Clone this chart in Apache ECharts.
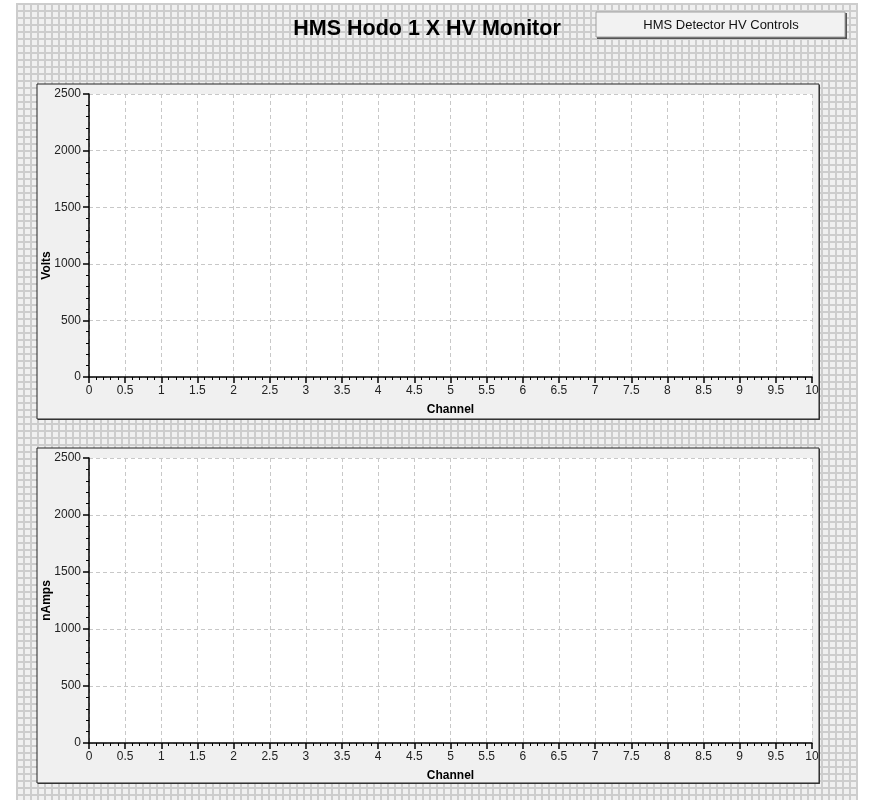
<!DOCTYPE html>
<html>
<head>
<meta charset="utf-8">
<title>HMS Hodo 1 X HV Monitor</title>
<script src="https://cdn.jsdelivr.net/npm/echarts@6/dist/echarts.min.js"></script>
<style>
    html, body { margin: 0; padding: 0; background: #ffffff; }
    #bg {
        position: absolute; left: 16px; top: 3px; width: 842px; height: 797px;
        background-color: #f0f0f0;
        background-image:
            linear-gradient(to right, #cdcdcd 0, #cdcdcd 2px, transparent 2px),
            linear-gradient(to bottom, #cdcdcd 0, #cdcdcd 2px, transparent 2px);
        background-size: 7px 7px;
    }
    #main { position: absolute; left: 0; top: 0; width: 872px; height: 802px; }
</style>
</head>
<body>
<div id="bg"></div>
<div id="main"></div>
<script>
    // 坐标轴范围与刻度
    const channelRange = [0, 10];
    const channelStep = 0.5;
    const voltsRange = [0, 2500];
    const ampsRange = [0, 2500];
    const valueStep = 500;

    // 通道数据(当前无读数)
    const voltsData = [];
    const ampsData = [];

    const FONT = '"Liberation Sans", Arial, sans-serif';

    function xAxisFor(gridIndex) {
        return {
            type: 'value',
            gridIndex: gridIndex,
            min: channelRange[0],
            max: channelRange[1],
            interval: channelStep,
            name: 'Channel',
            nameLocation: 'middle',
            nameGap: 27,
            nameTextStyle: { color: '#000', fontWeight: 'bold', fontSize: 12, fontFamily: FONT },
            axisLine: { onZero: false, lineStyle: { color: '#000', width: 1.5 } },
            axisTick: { length: 6, lineStyle: { color: '#000', width: 1.5 } },
            minorTick: { show: true, splitNumber: 5, length: 3, lineStyle: { color: '#000', width: 1 } },
            axisLabel: { color: '#222', fontSize: 12, fontFamily: FONT, margin: 8, formatter: v => String(v) },
            splitLine: { show: true, lineStyle: { color: '#c8c8c8', type: [4, 3] } }
        };
    }

    function yAxisFor(gridIndex, range, name, pad) {
        return {
            type: 'value',
            gridIndex: gridIndex,
            min: range[0],
            max: range[1],
            interval: valueStep,
            name: name,
            nameLocation: 'middle',
            nameGap: 36,
            nameMoveOverlap: false,
            nameTextStyle: { color: '#000', fontWeight: 'bold', fontSize: 12, fontFamily: FONT, padding: pad },
            axisLine: { show: true, onZero: false, lineStyle: { color: '#000', width: 1.5 } },
            axisTick: { show: true, length: 6, lineStyle: { color: '#000', width: 1.5 } },
            minorTick: { show: true, splitNumber: 5, length: 3, lineStyle: { color: '#000', width: 1 } },
            axisLabel: { color: '#222', fontSize: 12, fontFamily: FONT, margin: 8, formatter: v => String(v) },
            splitLine: { show: true, lineStyle: { color: '#c8c8c8', type: [4, 3] } }
        };
    }

    // 面板:阴影、底板、白色绘图区
    function panel(y) {
        return [
            { type: 'rect', shape: { x: 38, y: y + 1, width: 782, height: 335 }, style: { fill: '#444' }, z: -10 },
            { type: 'rect', shape: { x: 37, y: y, width: 782, height: 335 }, style: { fill: '#f0f0f0', stroke: '#222', lineWidth: 1 }, z: -10 },
            { type: 'rect', shape: { x: 89, y: y + 10, width: 723, height: y === 84 ? 283 : 285 }, style: { fill: '#ffffff' }, z: -10 }
        ];
    }

    const chart = echarts.init(document.getElementById('main'));
    chart.setOption({
        backgroundColor: 'transparent',
        animation: false,
        graphic: [
            ...panel(84),
            ...panel(448),
            {
                type: 'text', x: 427, y: 29, z: 5,
                style: {
                    text: 'HMS Hodo 1 X HV Monitor', fill: '#000', font: 'bold 21.5px ' + FONT,
                    textAlign: 'center', textVerticalAlign: 'middle'
                }
            },
            { type: 'rect', shape: { x: 597, y: 13, width: 250, height: 26 }, style: { fill: '#555' }, z: 4 },
            { type: 'rect', shape: { x: 596, y: 12, width: 249, height: 25 }, style: { fill: '#f2f2f2', stroke: '#a0a0a0', lineWidth: 1 }, z: 5 },
            {
                type: 'text', x: 721, y: 25, z: 6,
                style: {
                    text: 'HMS Detector HV Controls', fill: '#111', font: '13px ' + FONT,
                    textAlign: 'center', textVerticalAlign: 'middle'
                }
            }
        ],
        grid: [
            { left: 89, top: 94, width: 723, height: 283 },
            { left: 89, top: 458, width: 723, height: 285 }
        ],
        xAxis: [xAxisFor(0), xAxisFor(1)],
        yAxis: [
            yAxisFor(0, voltsRange, 'Volts', [0, 60, 0, 0]),
            yAxisFor(1, ampsRange, 'nAmps', [0, 0, 0, 0])
        ],
        series: [
            { name: 'Volts', type: 'line', xAxisIndex: 0, yAxisIndex: 0, data: voltsData, showSymbol: false },
            { name: 'nAmps', type: 'line', xAxisIndex: 1, yAxisIndex: 1, data: ampsData, showSymbol: false }
        ]
    });
</script>
</body>
</html>
